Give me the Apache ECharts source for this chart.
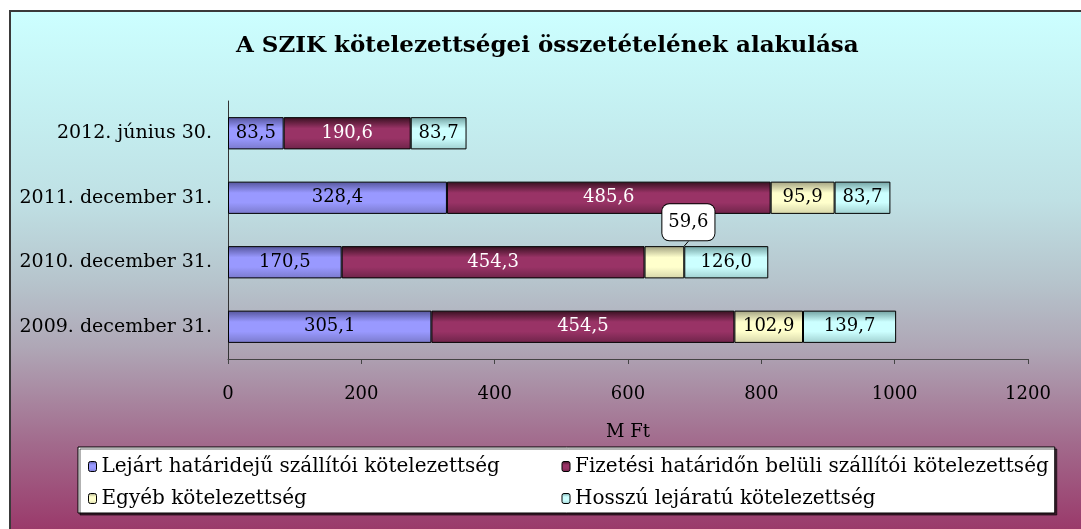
<!DOCTYPE html>
<html>
<head>
<meta charset="utf-8">
<script src="https://cdn.jsdelivr.net/npm/echarts@6/dist/echarts.min.js"></script>
<style>
  html, body { margin:0; padding:0; background:#fff; overflow:hidden; }
  #frame {
    position:absolute; left:9px; top:10px; width:1100px; height:540px;
    border:2px solid #3a3a3a;
    background:linear-gradient(to bottom, #ccffff 0%, #c4eef0 20%, #bfe0e4 35%, #b6c4cc 50%, #afa7b6 62%, #a26a8c 80%, #993366 98%);
  }
  #chart { position:absolute; left:0; top:0; width:1081px; height:529px; }
</style>
</head>
<body>
<div id="frame"></div>
<div id="chart"></div>
<script>
// kategóriák (alulról felfelé)
const categories = ['2009. december 31.', '2010. december 31.', '2011. december 31.', '2012. június 30.']
// sorozatok, M Ft
const lejart = [305.1, 170.5, 328.4, 83.5]
const fizetesi = [454.5, 454.3, 485.6, 190.6]
const egyeb = [102.9, 59.6, 95.9, null]
const hosszu = [139.7, 126.0, 83.7, 83.7]
const xTicks = [0, 200, 400, 600, 800, 1000, 1200]

const FONT = 'DejaVu Serif'

function fmt(v){
    return v.toFixed(1).replace('.', ',')
}
// Excel-szerű sávszínezés: sötétebb szél, világos közép
function shade(top, mid, bottom){
    return new echarts.graphic.LinearGradient(0, 0, 0, 1, [
        {offset: 0, color: top},
        {offset: 0.35, color: mid},
        {offset: 0.65, color: mid},
        {offset: 1, color: bottom}
    ])
}
function makeSeries(name, data, colors, labelColor){
    return {
        name: name,
        type: 'bar',
        stack: 'osszes',
        barCategoryGap: '50%',
        data: data,
        itemStyle: {color: shade(colors[0], colors[1], colors[2]), borderColor: '#000', borderWidth: 1},
        label: {
            show: true,
            position: 'inside',
            color: labelColor,
            fontFamily: FONT,
            fontSize: 18,
            formatter: (p) => fmt(p.value)
        }
    }
}

let series = [
    makeSeries('Lejárt határidejű szállítói kötelezettség', lejart, ['#54549a', '#9999ff', '#7a7acc'], '#000'),
    makeSeries('Fizetési határidőn belüli szállítói kötelezettség', fizetesi, ['#36101f', '#993366', '#6e2449'], '#fff'),
    makeSeries('Egyéb kötelezettség', egyeb, ['#a0a080', '#ffffcc', '#d6d6aa'], '#000'),
    makeSeries('Hosszú lejáratú kötelezettség', hosszu, ['#70a0a0', '#ccffff', '#a0d0d0'], '#000')
]
// a 2010-es "Egyéb" érték kiemelt címkéje
series[2].data = egyeb.map((v, i) => i === 1 ? {
    value: v,
    label: {backgroundColor: '#fff', borderColor: '#000', borderWidth: 1, borderRadius: 7, padding: [10, 6, 8, 6]}
} : v)
series[2].labelLayout = (p) => p.dataIndex === 1 ? {dx: 24, dy: -40} : {}
series[2].labelLine = {show: true, lineStyle: {color: '#000', width: 1}}

let myChart = echarts.init(document.getElementById('chart'))
let option = {
    backgroundColor: 'transparent',
    animation: false,
    title: {
        text: 'A SZIK kötelezettségei összetételének alakulása',
        left: 231,
        top: 30,
        padding: 5,
        textStyle: {fontFamily: FONT, fontWeight: 'bold', fontSize: 23, color: '#000'}
    },
    grid: {left: 228, right: 53, top: 101, bottom: 170},
    xAxis: {
        type: 'value',
        min: 0,
        max: 1200,
        interval: 200,
        name: 'M Ft',
        nameLocation: 'middle',
        nameGap: 64,
        nameTextStyle: {fontFamily: FONT, fontSize: 18, color: '#000'},
        axisLine: {show: true, lineStyle: {color: '#444'}},
        axisTick: {show: true, length: 5, lineStyle: {color: '#444'}},
        splitLine: {show: false},
        axisLabel: {
            fontFamily: FONT, fontSize: 18, color: '#000', margin: 26,
            formatter: (v) => xTicks.includes(v) ? String(v) : ''
        }
    },
    yAxis: {
        type: 'category',
        data: categories,
        axisLine: {show: true, lineStyle: {color: '#333'}},
        axisTick: {show: false},
        axisLabel: {fontFamily: FONT, fontSize: 19, color: '#000', margin: 16}
    },
    legend: {
        left: 78,
        top: 447,
        width: 1000,
        orient: 'horizontal',
        itemWidth: 8,
        itemHeight: 10,
        itemGap: 5,
        padding: [6, 6, 1, 10],
        backgroundColor: '#fff',
        borderColor: '#000',
        borderWidth: 1,
        shadowColor: 'rgba(0,0,0,0.6)',
        shadowOffsetX: 2,
        shadowOffsetY: 2,
        textStyle: {fontFamily: FONT, fontSize: 20, color: '#000', width: 455, lineHeight: 27, height: 27},
        itemStyle: {borderColor: '#000', borderWidth: 1},
        data: series.map((s) => s.name)
    },
    series: series
}
myChart.setOption(option)
</script>
</body>
</html>
